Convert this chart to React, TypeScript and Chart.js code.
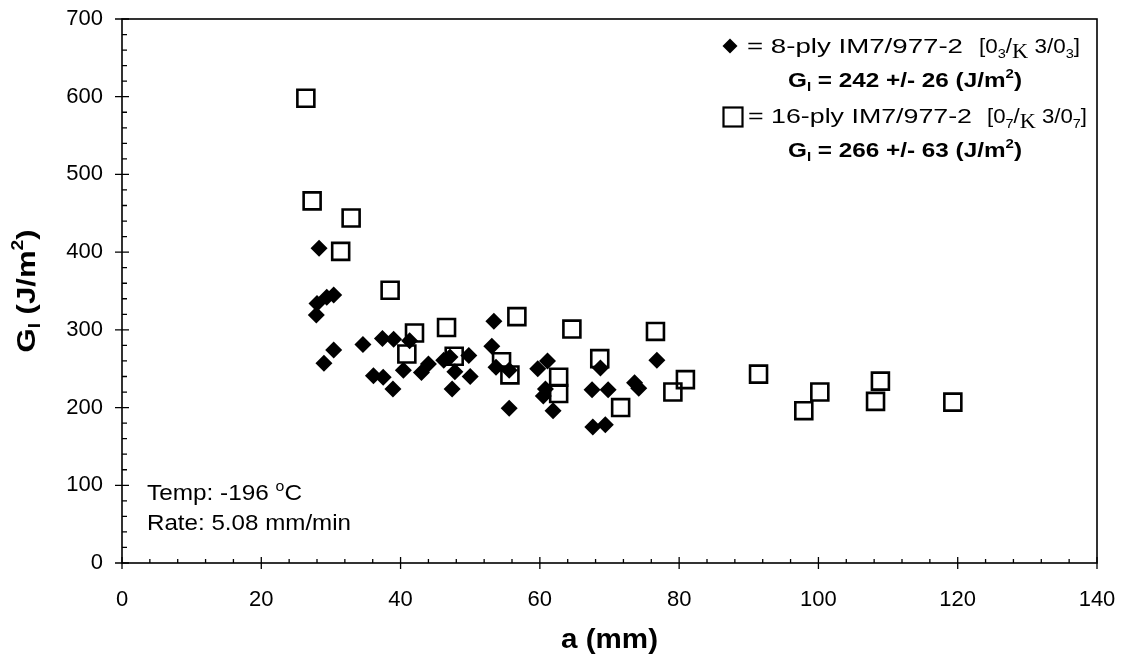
import React, { useEffect, useRef } from "react";
import { Chart, registerables } from "chart.js";
Chart.register(...registerables);

// 8-ply IM7/977-2 (filled diamonds)
const ply8A = [27.9, 28.0, 28.3, 29.4, 30.4, 29.0, 30.4, 34.6, 36.1, 37.4, 37.5, 38.9, 39.0, 40.4, 41.3, 43.0, 44.0, 46.2, 47.1, 47.4, 47.8, 49.8, 50.0, 53.4, 53.1, 53.7, 55.6, 55.6, 59.7, 61.1, 60.8, 60.5, 61.9, 67.5, 68.7, 69.8, 67.6, 69.4, 73.6, 74.2, 76.8];
const ply8G = [319, 334, 405, 342, 345, 257, 274, 281, 241, 289, 239, 224, 288, 248, 286, 245, 256, 261, 265, 224, 246, 267, 240, 311, 279, 252, 248, 199, 250, 260, 224, 215, 196, 223, 251, 223, 175, 178, 232, 225, 261];

// 16-ply IM7/977-2 (open squares)
const ply16A = [26.4, 27.3, 32.9, 31.4, 38.5, 42.0, 46.6, 40.9, 47.7, 56.7, 54.5, 55.7, 64.6, 76.6, 68.6, 71.6, 80.9, 79.1, 91.4, 62.7, 62.7, 97.9, 100.2, 108.9, 108.2, 119.3];
const ply16G = [598, 466, 444, 401, 351, 296, 303, 269, 266, 317, 259, 242, 301, 298, 263, 200, 236, 220, 243, 239, 218, 196, 220, 234, 208, 207];

const xTicks = [0, 20, 40, 60, 80, 100, 120, 140];
const yTicks = [0, 100, 200, 300, 400, 500, 600, 700];

const SANS = '"Liberation Sans", Arial, Helvetica, sans-serif';
const SERIF = '"Liberation Serif", "Times New Roman", serif';

type Seg = { t: string; size: number; bold?: boolean; serif?: boolean; dy?: number };

function segFont(s: Seg) {
  return `${s.bold ? "bold " : ""}${s.size}px ${s.serif ? SERIF : SANS}`;
}
function measureSegs(ctx: CanvasRenderingContext2D, segs: Seg[]) {
  let w = 0;
  for (const s of segs) {
    ctx.font = segFont(s);
    w += ctx.measureText(s.t).width;
  }
  return w;
}
// draws segments starting at x (or centred on x); if fitW is given the run is stretched horizontally to that width
function drawSegs(
  ctx: CanvasRenderingContext2D,
  segs: Seg[],
  x: number,
  y: number,
  opts: { align?: "left" | "center"; fitW?: number; sx?: number } = {}
) {
  ctx.save();
  const natural = measureSegs(ctx, segs);
  const sx = opts.fitW ? opts.fitW / natural : opts.sx || 1.08;
  ctx.translate(x, y);
  ctx.scale(sx, 1);
  ctx.textAlign = "left";
  ctx.textBaseline = "alphabetic";
  ctx.fillStyle = "#000";
  let cx = opts.align === "center" ? -natural / 2 : 0;
  for (const s of segs) {
    ctx.font = segFont(s);
    ctx.fillText(s.t, cx, s.dy || 0);
    cx += ctx.measureText(s.t).width;
  }
  ctx.restore();
}

const framePlugin = {
  id: "frameDecor",
  beforeDatasetsDraw(chart: any) {
    const ctx: CanvasRenderingContext2D = chart.ctx;
    const { left, right, top, bottom } = chart.chartArea;
    const xs = chart.scales.x;
    const ys = chart.scales.y;
    ctx.save();
    ctx.strokeStyle = "#000";
    ctx.lineWidth = 1.6;
    ctx.strokeRect(left, top, right - left, bottom - top);
    ctx.lineWidth = 1.3;
    ctx.beginPath();
    for (let v = 0; v <= 700; v += 20) {
      const py = ys.getPixelForValue(v);
      if (v % 100 === 0) {
        ctx.moveTo(left - 7, py);
        ctx.lineTo(left + 7, py);
      } else {
        ctx.moveTo(left, py);
        ctx.lineTo(left + 5, py);
      }
    }
    for (let v = 0; v <= 140; v += 4) {
      const px = xs.getPixelForValue(v);
      if (v % 20 === 0) {
        ctx.moveTo(px, bottom - 6);
        ctx.lineTo(px, bottom + 6);
      } else {
        ctx.moveTo(px, bottom);
        ctx.lineTo(px, bottom - 4);
      }
    }
    ctx.stroke();
    ctx.restore();
  },
  afterDraw(chart: any) {
    const ctx: CanvasRenderingContext2D = chart.ctx;
    const { left, right, top, bottom } = chart.chartArea;

    // x title
    drawSegs(ctx, [{ t: "a (mm)", size: 27, bold: true }], (left + right) / 2, 648, { align: "center", fitW: 97 });

    // y title (rotated)
    ctx.save();
    ctx.translate(35, (top + bottom) / 2);
    ctx.rotate(-Math.PI / 2);
    drawSegs(
      ctx,
      [
        { t: "G", size: 26, bold: true },
        { t: "I", size: 16, bold: true, dy: 5 },
        { t: " (J/m", size: 26, bold: true },
        { t: "2", size: 16, bold: true, dy: -12 },
        { t: ")", size: 26, bold: true },
      ],
      0,
      0,
      { align: "center", fitW: 123 }
    );
    ctx.restore();

    // annotation
    drawSegs(
      ctx,
      [
        { t: "Temp: -196 ", size: 21.5 },
        { t: "o", size: 14, dy: -9 },
        { t: "C", size: 21.5 },
      ],
      147,
      500,
      { fitW: 155 }
    );
    drawSegs(ctx, [{ t: "Rate: 5.08 mm/min", size: 21.5 }], 147, 530, { fitW: 204 });

    // legend markers
    ctx.save();
    ctx.fillStyle = "#000";
    ctx.beginPath();
    ctx.moveTo(730, 46 - 7.5);
    ctx.lineTo(737.5, 46);
    ctx.lineTo(730, 46 + 7.5);
    ctx.lineTo(722.5, 46);
    ctx.closePath();
    ctx.fill();
    ctx.strokeStyle = "#000";
    ctx.lineWidth = 2.2;
    ctx.strokeRect(723.5, 107.5, 19, 19);
    ctx.restore();

    const bracket = (n: string): Seg[] => [
      { t: "[0", size: 20 },
      { t: n, size: 13, dy: 5 },
      { t: "/", size: 20 },
      { t: "K", size: 20, serif: true, dy: 5 },
      { t: " 3/0", size: 20 },
      { t: n, size: 13, dy: 5 },
      { t: "]", size: 20 },
    ];
    const gLine = (txt: string): Seg[] => [
      { t: "G", size: 21, bold: true },
      { t: "I", size: 13, bold: true, dy: 4 },
      { t: txt, size: 21, bold: true },
      { t: "2", size: 13, bold: true, dy: -9 },
      { t: ")", size: 21, bold: true },
    ];

    // legend texts
    drawSegs(ctx, [{ t: "= 8-ply IM7/977-2", size: 20.5 }], 747, 53, { fitW: 216 });
    drawSegs(ctx, bracket("3"), 979, 53, { fitW: 101 });
    drawSegs(ctx, gLine(" = 242 +/- 26 (J/m"), 788, 87, { fitW: 234 });
    drawSegs(ctx, [{ t: "= 16-ply IM7/977-2", size: 20.5 }], 748, 123, { fitW: 224 });
    drawSegs(ctx, bracket("7"), 987, 123, { fitW: 100 });
    drawSegs(ctx, gLine(" = 266 +/- 63 (J/m"), 788, 157, { fitW: 234 });
  },
};

export default function App() {
  const ref = useRef<HTMLCanvasElement | null>(null);
  useEffect(() => {
    document.body.style.margin = "0";
    const canvas = ref.current!;
    const tickFont = { family: SANS, size: 22 };
    const chart = new Chart(canvas, {
      type: "scatter",
      data: {
        datasets: [
          {
            label: "8-ply IM7/977-2",
            data: ply8A.map((a, i) => ({ x: a, y: ply8G[i] })),
            pointStyle: "rectRot",
            pointRadius: 8.5,
            backgroundColor: "#000",
            borderColor: "#000",
            borderWidth: 0,
          },
          {
            label: "16-ply IM7/977-2",
            data: ply16A.map((a, i) => ({ x: a, y: ply16G[i] })),
            pointStyle: "rect",
            pointRadius: 12,
            backgroundColor: "rgba(0,0,0,0)",
            borderColor: "#000",
            borderWidth: 2.6,
          },
        ],
      },
      options: {
        responsive: false,
        animation: false,
        events: [],
        layout: { padding: { top: 19, right: 25, left: 0, bottom: 0 } },
        plugins: { legend: { display: false }, tooltip: { enabled: false }, title: { display: false } },
        scales: {
          x: {
            type: "linear",
            min: 0,
            max: 140,
            afterBuildTicks: (s: any) => {
              s.ticks = xTicks.map((v) => ({ value: v }));
            },
            afterFit: (s: any) => {
              s.height = 99;
              s.paddingLeft = 0;
              s.paddingRight = 0;
              s.paddingTop = 0;
              s.paddingBottom = 0;
            },
            grid: { display: false, drawTicks: false },
            border: { display: false },
            ticks: { font: tickFont, color: "#000", padding: 24, maxRotation: 0, autoSkip: false },
          },
          y: {
            type: "linear",
            min: 0,
            max: 700,
            afterBuildTicks: (s: any) => {
              s.ticks = yTicks.map((v) => ({ value: v }));
            },
            afterFit: (s: any) => {
              s.width = 122;
              s.paddingLeft = 0;
              s.paddingRight = 0;
              s.paddingTop = 0;
              s.paddingBottom = 0;
            },
            grid: { display: false, drawTicks: false },
            border: { display: false },
            ticks: { font: tickFont, color: "#000", padding: 19, autoSkip: false },
          },
        },
      },
      plugins: [framePlugin],
    } as any);
    return () => chart.destroy();
  }, []);
  return (
    <div style={{ width: 1122, height: 662, background: "#fff" }}>
      <canvas ref={ref} width={1122} height={662} style={{ width: 1122, height: 662, display: "block" }} />
    </div>
  );
}
